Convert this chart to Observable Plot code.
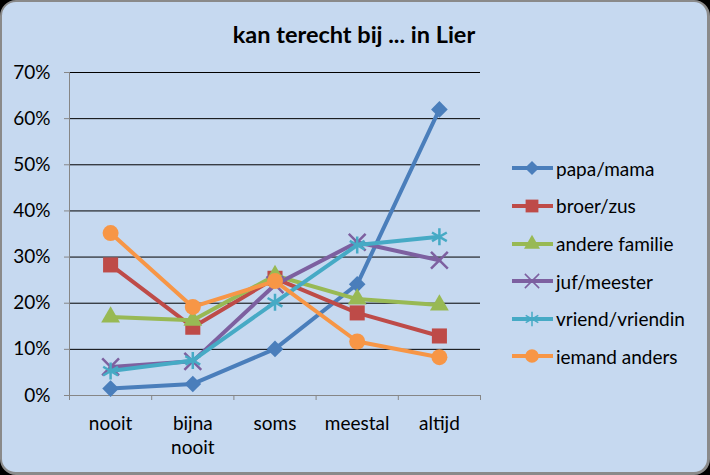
<!DOCTYPE html>
<html>
<head>
<meta charset="utf-8">
<script src="https://cdn.jsdelivr.net/npm/d3@7"></script>
<script src="https://cdn.jsdelivr.net/npm/@observablehq/plot@0.6"></script>
<style>
  html, body { margin: 0; padding: 0; background: #000; }
  #wrap { position: relative; width: 710px; height: 475px; overflow: hidden; font-family: Lato, sans-serif; color: #000; }
  #bg { position: absolute; left: 0; top: 0; width: 710px; height: 475px; box-sizing: border-box;
        border: 2px solid #8a8a8a; border-bottom-width: 3px; border-right-width: 3px; border-radius: 16px; background: #c6d9f0; }
  #title { position: absolute; left: 0; top: 21px; width: 708px; text-align: center; font-weight: bold; font-size: 23.5px; line-height: 26px; }
  #chart { position: absolute; left: 0; top: 0; }
  .lg { position: absolute; left: 510px; height: 24px; display: flex; align-items: center; font-size: 19px; white-space: nowrap; }
  .lg svg { display: block; margin-right: 2px; }
</style>
</head>
<body>
<div id="wrap">
  <div id="bg"></div>
  <div id="title">kan terecht bij ... in Lier</div>
  <div id="chart"></div>
  <div id="legend"></div>
</div>
<script>
// ---- data ----
const categories = ["nooit", "bijna\nnooit", "soms", "meestal", "altijd"];
const seriesNames = ["papa/mama", "broer/zus", "andere familie", "juf/meester", "vriend/vriendin", "iemand anders"];
const papaMama       = [1.5, 2.5, 10.1, 24.1, 62.0];
const broerZus       = [28.3, 14.8, 25.4, 17.9, 12.9];
const andereFamilie  = [17.0, 16.3, 26.0, 20.9, 19.6];
const jufMeester     = [6.2, 7.4, 24.0, 33.2, 29.3];
const vriendVriendin = [5.3, 7.6, 20.2, 32.6, 34.4];
const iemandAnders   = [35.2, 19.2, 24.8, 11.7, 8.3];
const yTicks = [0, 10, 20, 30, 40, 50, 60, 70];

// ---- styles ----
const seriesValues = [papaMama, broerZus, andereFamilie, jufMeester, vriendVriendin, iemandAnders];
const colors = ["#4a7ebb", "#be4b48", "#98b954", "#7d60a0", "#46aac5", "#f79646"];
const symbols = ["diamond2", "square", "triangle", "times", "asterisk", "circle"];
const d3Symbols = [d3.symbolDiamond2, d3.symbolSquare, d3.symbolTriangle, d3.symbolTimes, d3.symbolAsterisk, d3.symbolCircle];
const radii = [7.5, 8.5, 7, 7.7, 8.1, 8];
const strokeSymbols = [false, false, false, true, true, false];

const rows = [];
seriesNames.forEach((s, si) => seriesValues[si].forEach((v, i) => rows.push({series: s, idx: i, value: v / 100})));

const gray = "#868686";
const marks = [
  Plot.ruleY(yTicks.filter(d => d > 0), {y: d => d / 100, stroke: "#000", strokeWidth: 1}),
  Plot.ruleX([-0.5], {stroke: gray, strokeWidth: 1}),
  Plot.ruleY([0], {stroke: gray, strokeWidth: 1}),
  Plot.axisY({ticks: yTicks.map(d => d / 100), tickFormat: d => Math.round(d * 100) + "%", tickSize: 5, tickPadding: 14, stroke: gray, fill: "#000", label: null}),
  Plot.axisX({ticks: d3.range(-0.5, 5, 1), tickSize: 5, tickFormat: () => "", stroke: gray, label: null}),
  Plot.axisX({ticks: d3.range(5), tickSize: 0, tickPadding: 17, tickFormat: i => categories[i], lineHeight: 1.27, fill: "#000", label: null})
];
seriesNames.forEach((s, si) => {
  const data = rows.filter(r => r.series === s);
  marks.push(Plot.line(data, {x: "idx", y: "value", stroke: colors[si], strokeWidth: 4, strokeLinejoin: "round"}));
  if (strokeSymbols[si]) {
    marks.push(Plot.dot(data, {x: "idx", y: "value", symbol: symbols[si], r: radii[si], stroke: colors[si], strokeWidth: 2.5, fill: "none"}));
  } else {
    marks.push(Plot.dot(data, {x: "idx", y: "value", symbol: symbols[si], r: radii[si], fill: colors[si], stroke: "none"}));
  }
});

const chart = Plot.plot({
  width: 710, height: 475,
  marginLeft: 69, marginRight: 230, marginTop: 72, marginBottom: 80,
  x: {type: "linear", domain: [-0.5, 4.5]},
  y: {domain: [0, 0.7]},
  style: {background: "transparent", fontFamily: "Lato, sans-serif", fontSize: "19px", color: "#000", overflow: "visible"},
  marks
});
document.getElementById("chart").appendChild(chart);

// ---- legend ----
const legend = d3.select("#legend");
seriesNames.forEach((s, si) => {
  const row = legend.append("div").attr("class", "lg").style("top", (168.3 + si * 37.6 - 12) + "px");
  const svg = row.append("svg").attr("width", 44).attr("height", 24);
  svg.append("line").attr("x1", 2).attr("x2", 43).attr("y1", 12).attr("y2", 12).attr("stroke", colors[si]).attr("stroke-width", 4);
  const r = radii[si] * 0.85;
  const p = svg.append("path").attr("transform", "translate(22,12)").attr("d", d3.symbol(d3Symbols[si], Math.PI * r * r)());
  if (strokeSymbols[si]) p.attr("fill", "none").attr("stroke", colors[si]).attr("stroke-width", 1.5);
  else p.attr("fill", colors[si]);
  row.append("span").text(s);
});
</script>
</body>
</html>
